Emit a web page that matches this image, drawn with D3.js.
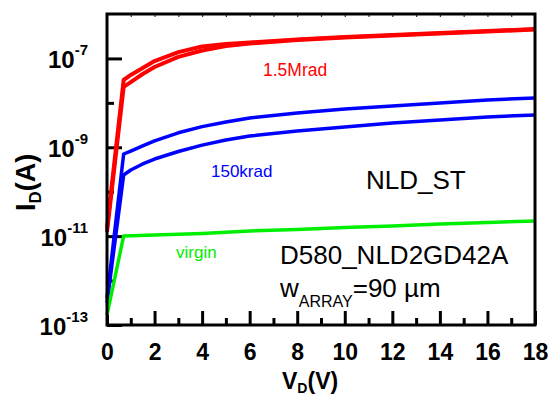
<!DOCTYPE html>
<html>
<head>
<meta charset="utf-8">
<script src="https://cdn.jsdelivr.net/npm/d3@7/dist/d3.min.js"></script>
<style>
body { margin: 0; background: #fff; }
text { font-family: "Liberation Sans", Arial, sans-serif; }
</style>
</head>
<body>
<div id="chart"></div>
<script>
// drain voltage (V) sample points
const vd = [0, 0.7, 1, 1.5, 2, 3, 4, 5, 6, 8, 10, 12, 14, 16, 18]
const vdVirgin = [0, 0.7, 2, 4, 6, 8, 10, 12, 14, 16, 18]

// drain current (A)
const mrad1 = [1.52e-11, 3.27e-8, 4.24e-8, 6.08e-8, 8.75e-8, 1.39e-7, 1.85e-7, 2.11e-7, 2.28e-7, 2.67e-7, 3.03e-7, 3.36e-7, 3.73e-7, 4.14e-7, 4.59e-7]
const mrad2 = [1.24e-11, 2.28e-8, 2.94e-8, 4.46e-8, 6.41e-8, 1.08e-7, 1.51e-7, 1.91e-7, 2.17e-7, 2.60e-7, 2.96e-7, 3.28e-7, 3.64e-7, 4.04e-7, 4.48e-7]
const krad1 = [4.05e-13, 7.06e-10, 8.24e-10, 1.07e-9, 1.40e-9, 2.12e-9, 2.92e-9, 3.70e-9, 4.56e-9, 5.92e-9, 7.28e-9, 8.50e-9, 9.93e-9, 1.16e-8, 1.29e-8]
const krad2 = [3.13e-13, 2.38e-10, 3.08e-10, 4.21e-10, 5.44e-10, 8.03e-10, 1.12e-9, 1.46e-9, 1.79e-9, 2.32e-9, 2.86e-9, 3.51e-9, 4.11e-9, 4.81e-9, 5.33e-9]
const virgin = [1.68e-13, 1.01e-11, 1.06e-11, 1.15e-11, 1.31e-11, 1.41e-11, 1.56e-11, 1.69e-11, 1.88e-11, 2.03e-11, 2.19e-11]

const xMajor = [0, 2, 4, 6, 8, 10, 12, 14, 16, 18]
const xMinor = [1, 3, 5, 7, 9, 11, 13, 15, 17]
const yMajor = [-13, -11, -9, -7]
const yMinor = [-12, -10, -8]

const series = [
    { name: "1.5Mrad", color: "#ff0000", v: vd, i: mrad1, w: 4 },
    { name: "1.5Mrad", color: "#ff0000", v: vd, i: mrad2, w: 4 },
    { name: "150krad", color: "#0000ff", v: vd, i: krad1, w: 3.5 },
    { name: "150krad", color: "#0000ff", v: vd, i: krad2, w: 3.5 },
    { name: "virgin", color: "#00ee00", v: vdVirgin, i: virgin, w: 3.5 }
]

const width = 553
const height = 396
const plotLeft = 107, plotRight = 535, plotTop = 14, plotBottom = 325

const svg = d3.select("#chart").append("svg")
    .attr("width", width)
    .attr("height", height)
    .attr("viewBox", [0, 0, width, height])

const x = d3.scaleLinear().domain([0, 18]).range([plotLeft, plotRight])
const y = d3.scaleLog().domain([1e-13, 1e-6]).range([plotBottom, plotTop])

// bottom axis, inward ticks
const gx = svg.append("g").attr("transform", `translate(0,${plotBottom})`)
gx.call(d3.axisBottom(x).tickValues(xMajor).tickSize(-14).tickPadding(19).tickFormat(d3.format("d")))
gx.append("g").call(d3.axisBottom(x).tickValues(xMinor).tickSize(-7).tickFormat(""))
gx.selectAll(".domain").remove()
gx.selectAll(".tick line").attr("stroke", "#000").attr("stroke-width", 3)
gx.selectAll(".tick text")
    .attr("fill", "#000")
    .attr("font-size", 23)
    .attr("font-weight", "bold")
    .attr("font-family", "Liberation Sans, Arial, sans-serif")

// top axis, tiny ticks
const gt = svg.append("g").attr("transform", `translate(0,${plotTop})`)
gt.call(d3.axisTop(x).tickValues(d3.range(1, 18)).tickSize(-3).tickFormat(""))
gt.selectAll(".domain").remove()
gt.selectAll(".tick line").attr("stroke", "#333").attr("stroke-width", 1.2)

// left axis, log decades with superscripts
const gy = svg.append("g").attr("transform", `translate(${plotLeft},0)`)
gy.call(d3.axisLeft(y).tickValues(yMajor.map(e => Math.pow(10, e))).tickSize(-15).tickFormat(""))
gy.append("g").call(d3.axisLeft(y).tickValues(yMinor.map(e => Math.pow(10, e))).tickSize(-7).tickFormat(""))
gy.selectAll(".domain").remove()
gy.selectAll(".tick line").attr("stroke", "#000").attr("stroke-width", 3)
gy.selectAll(".tick").filter(d => yMajor.includes(Math.round(Math.log10(d))))
    .append("text")
    .attr("x", -19)
    .attr("y", 9)
    .attr("text-anchor", "end")
    .attr("fill", "#000")
    .attr("font-weight", "bold")
    .attr("font-size", 24)
    .each(function (d) {
        const t = d3.select(this)
        t.append("tspan").text("10")
        t.append("tspan").attr("dy", -13).attr("font-size", 15).text(Math.round(Math.log10(d)))
    })

// curves (straight segments between measured points, sharp knee at 0.7 V)
const line = d3.line()
    .x(d => x(d[0]))
    .y(d => y(d[1]))

svg.append("g")
    .attr("fill", "none")
    .attr("stroke-linejoin", "round")
    .selectAll("path")
    .data(series)
    .join("path")
    .attr("d", d => line(d.v.map((v, k) => [v, d.i[k]])))
    .attr("stroke", d => d.color)
    .attr("stroke-width", d => d.w)

// frame
svg.append("rect")
    .attr("x", plotLeft).attr("y", plotTop)
    .attr("width", plotRight - plotLeft).attr("height", plotBottom - plotTop)
    .attr("fill", "none")
    .attr("stroke", "#000")
    .attr("stroke-width", 3)

// curve labels
svg.append("text").attr("x", 263).attr("y", 76).attr("fill", "#ff0000").attr("font-size", 17.5).text("1.5Mrad")
svg.append("text").attr("x", 211).attr("y", 176.5).attr("fill", "#0000ff").attr("font-size", 17).text("150krad")
svg.append("text").attr("x", 176).attr("y", 258).attr("fill", "#00ee00").attr("font-size", 17).text("virgin")

// device annotations
svg.append("text").attr("x", 366).attr("y", 189).attr("font-size", 26).text("NLD_ST")
svg.append("text").attr("x", 280).attr("y", 264).attr("font-size", 26).text("D580_NLD2GD42A")
const wt = svg.append("text").attr("x", 280).attr("y", 297).attr("font-size", 26)
wt.append("tspan").text("w")
wt.append("tspan").attr("dy", 10).attr("font-size", 16).text("ARRAY")
wt.append("tspan").attr("dy", -10).text("=90 µm")

// axis titles
const yl = svg.append("text")
    .attr("transform", "translate(35,211) rotate(-90)")
    .attr("font-size", 27)
    .attr("font-weight", "bold")
yl.append("tspan").text("I")
yl.append("tspan").attr("dy", 6).attr("font-size", 17).text("D")
yl.append("tspan").attr("dy", -6).text("(A)")

const xl = svg.append("text")
    .attr("x", 282)
    .attr("y", 389)
    .attr("font-size", 23)
    .attr("font-weight", "bold")
xl.append("tspan").text("V")
xl.append("tspan").attr("dy", 4).attr("font-size", 14).text("D")
xl.append("tspan").attr("dy", -4).text("(V)")
</script>
</body>
</html>
